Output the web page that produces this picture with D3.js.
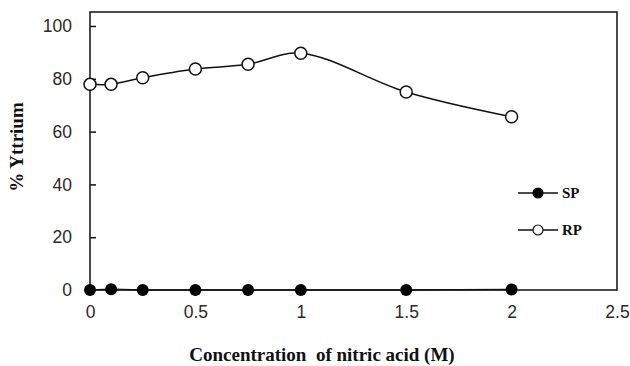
<!DOCTYPE html>
<html>
<head>
<meta charset="utf-8">
<script src="https://cdn.jsdelivr.net/npm/d3@7"></script>
<style>
  body { margin: 0; background: #fff; }
  .tick text { font-family: "Liberation Sans", Arial, sans-serif; font-size: 17.5px; fill: #2a2a2a; }
  .title { font-family: "Liberation Serif", "Times New Roman", serif; font-weight: bold; font-size: 19px; fill: #111; }
</style>
</head>
<body>
<script>
// concentration of nitric acid (M)
var conc = [0, 0.1, 0.25, 0.5, 0.75, 1, 1.5, 2];
// % yttrium
var sp = [0, 0.3, 0, 0, 0, 0, 0, 0.2];
var rp = [77.9, 77.9, 80.4, 83.7, 85.5, 89.7, 75, 65.6];
var xTicks = [0, 0.5, 1, 1.5, 2, 2.5];
var yTicks = [0, 20, 40, 60, 80, 100];

var width = 630, height = 366;
var margin = {left: 90, right: 13, top: 12, bottom: 76};

var svg = d3.select("body").append("svg")
    .attr("width", width)
    .attr("height", height);

var x = d3.scaleLinear().domain([0, 2.5]).range([margin.left, width - margin.right]);
var y = d3.scaleLinear().domain([0, 105.3]).range([height - margin.bottom, margin.top]);

// frame
svg.append("rect")
    .attr("x", x(0)).attr("y", y(105.3))
    .attr("width", x(2.5) - x(0)).attr("height", y(0) - y(105.3))
    .attr("fill", "none").attr("stroke", "#111").attr("stroke-width", 1.5);

var yAxis = svg.append("g")
    .attr("transform", "translate(" + x(0) + ",0)")
    .call(d3.axisLeft(y).tickValues(yTicks).tickSize(-6).tickPadding(18));
yAxis.select(".domain").remove();
yAxis.selectAll(".tick line").attr("stroke", "#111").attr("stroke-width", 1.5);

var xAxis = svg.append("g")
    .attr("transform", "translate(0," + y(0) + ")")
    .call(d3.axisBottom(x).tickValues(xTicks).tickSize(0).tickPadding(16)
        .tickFormat(d3.format("")));
xAxis.select(".domain").remove();

var line = d3.line()
    .x(function(d, i) { return x(conc[i]); })
    .y(function(d) { return y(d); });

svg.append("path").datum(sp).attr("d", line.curve(d3.curveLinear))
    .attr("fill", "none").attr("stroke", "#111").attr("stroke-width", 1.5);
svg.append("path").datum(rp).attr("d", line.curve(d3.curveCatmullRom.alpha(0.5)))
    .attr("fill", "none").attr("stroke", "#111").attr("stroke-width", 1.5);

svg.selectAll(".sp").data(sp).enter().append("circle")
    .attr("cx", function(d, i) { return x(conc[i]); })
    .attr("cy", function(d) { return y(d); })
    .attr("r", 6).attr("fill", "#000");

svg.selectAll(".rp").data(rp).enter().append("circle")
    .attr("cx", function(d, i) { return x(conc[i]); })
    .attr("cy", function(d) { return y(d); })
    .attr("r", 6).attr("fill", "#fff").attr("stroke", "#111").attr("stroke-width", 1.5);

// legend
var legend = [["SP", "#000"], ["RP", "#fff"]];
var lg = svg.selectAll(".lg").data(legend).enter().append("g")
    .attr("transform", function(d, i) { return "translate(518," + (193 + i * 37) + ")"; });
lg.append("line").attr("x1", 0).attr("x2", 40)
    .attr("stroke", "#111").attr("stroke-width", 1.5);
lg.append("circle").attr("cx", 20).attr("r", 5)
    .attr("fill", function(d) { return d[1]; })
    .attr("stroke", "#111").attr("stroke-width", 1.2);
lg.append("text").attr("class", "title").attr("x", 44).attr("y", 5)
    .style("font-size", "15px")
    .text(function(d) { return d[0]; });

svg.append("text").attr("class", "title")
    .attr("x", 322).attr("y", 361).attr("text-anchor", "middle")
    .style("white-space", "pre")
    .text("Concentration  of nitric acid (M)");

svg.append("text").attr("class", "title")
    .attr("transform", "translate(23,147) rotate(-90)")
    .attr("text-anchor", "middle")
    .text("% Yttrium");
</script>
</body>
</html>
